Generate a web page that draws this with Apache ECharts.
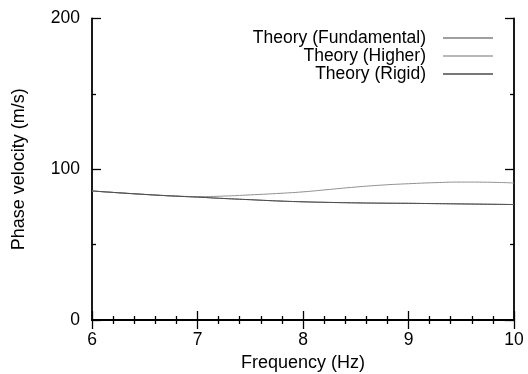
<!DOCTYPE html>
<html>
<head>
<meta charset="utf-8">
<script src="https://cdn.jsdelivr.net/npm/echarts@6/dist/echarts.min.js"></script>
<style>
  html, body { margin: 0; padding: 0; background: #fff; }
  #main { width: 528px; height: 374px; }
</style>
</head>
<body>
<div id="main"></div>
<script type="text/javascript">
// frequency (Hz)
var freq = [6, 6.25, 6.5, 6.75, 7, 7.25, 7.5, 7.75, 8, 8.25, 8.5, 8.75, 9, 9.25, 9.5, 9.75, 10];
// phase velocity (m/s)
var fundamental = [85.6, 84.4, 83.3, 82.3, 81.5, 80.6, 79.8, 79.0, 78.4, 78.0, 77.7, 77.5, 77.4, 77.2, 77.0, 76.8, 76.6];
var higher      = [85.6, 84.4, 83.3, 82.4, 81.9, 82.2, 83.0, 83.9, 85.0, 86.6, 88.2, 89.5, 90.4, 91.1, 91.5, 91.4, 90.9];
var rigid       = [85.6, 84.4, 83.3, 82.3, 81.5, 80.6, 79.8, 79.0, 78.4, 78.0, 77.7, 77.5, 77.4, 77.2, 77.0, 76.8, 76.6];
var names = ['Theory (Fundamental)', 'Theory (Higher)', 'Theory (Rigid)'];

function pairs(ys) {
    var out = [];
    for (var i = 0; i < freq.length; i++) out.push([freq[i], ys[i]]);
    return out;
}

var myChart = echarts.init(document.getElementById('main'));
var font = 'Liberation Sans, Arial, sans-serif';
var fs = 17.5;

var tickStyle = { color: '#000', width: 1.3 };

var option = {
    animation: false,
    textStyle: { fontFamily: font },
    grid: { left: 92, right: 14, top: 18.5, bottom: 54, containLabel: false, outerBoundsMode: 'none' },
    legend: {
        orient: 'vertical',
        right: 30,
        top: 24,
        align: 'right',
        itemWidth: 50,
        itemHeight: 1.5,
        itemGap: 0,
        icon: 'rect',
        textStyle: { fontSize: fs, color: '#000', fontFamily: font, padding: [0, 12, 0, 0] },
        data: names
    },
    xAxis: [
        {
            type: 'value', min: 6, max: 10, interval: 1,
            name: 'Frequency (Hz)', nameLocation: 'middle', nameGap: 33,
            nameTextStyle: { fontSize: 18, color: '#000' },
            axisLine: { lineStyle: { color: '#000', width: 1.8 } },
            axisTick: { inside: true, length: 9, lineStyle: tickStyle },
            minorTick: { show: true, splitNumber: 5, length: 4, lineStyle: tickStyle },
            axisLabel: { fontSize: fs, color: '#000', margin: 11 },
            splitLine: { show: false }
        },
        {
            type: 'value', min: 6, max: 10, interval: 1, position: 'top',
            axisLine: { lineStyle: { color: '#000', width: 1.8 } },
            axisTick: { inside: true, length: 9, lineStyle: tickStyle },
            minorTick: { show: true, splitNumber: 5, length: 4, lineStyle: tickStyle },
            axisLabel: { show: false },
            splitLine: { show: false }
        }
    ],
    yAxis: [
        {
            type: 'value', min: 0, max: 200, interval: 100,
            name: 'Phase velocity (m/s)', nameLocation: 'middle', nameGap: 64,
            nameTextStyle: { fontSize: 18, color: '#000' },
            axisLine: { show: true, lineStyle: { color: '#000', width: 1.8 } },
            axisTick: { show: true, inside: true, length: 9, lineStyle: tickStyle },
            minorTick: { show: true, splitNumber: 2, length: 4, lineStyle: tickStyle },
            axisLabel: { fontSize: fs, color: '#000', margin: 12 },
            splitLine: { show: false }
        },
        {
            type: 'value', min: 0, max: 200, interval: 100, position: 'right',
            axisLine: { show: true, lineStyle: { color: '#000', width: 1.8 } },
            axisTick: { show: true, inside: true, length: 9, lineStyle: tickStyle },
            minorTick: { show: true, splitNumber: 2, length: 4, lineStyle: tickStyle },
            axisLabel: { show: false },
            splitLine: { show: false }
        }
    ],
    series: [
        {
            name: names[0], type: 'line', data: pairs(fundamental), smooth: true,
            showSymbol: false, color: '#808080', lineStyle: { width: 1, color: '#808080' }
        },
        {
            name: names[1], type: 'line', data: pairs(higher), smooth: true,
            showSymbol: false, color: '#a0a0a0', lineStyle: { width: 1, color: '#909090' }
        },
        {
            name: names[2], type: 'line', data: pairs(rigid), smooth: true,
            showSymbol: false, color: '#4a4a4a', lineStyle: { width: 1, color: '#4a4a4a' }
        }
    ]
};
myChart.setOption(option);
</script>
</body>
</html>
